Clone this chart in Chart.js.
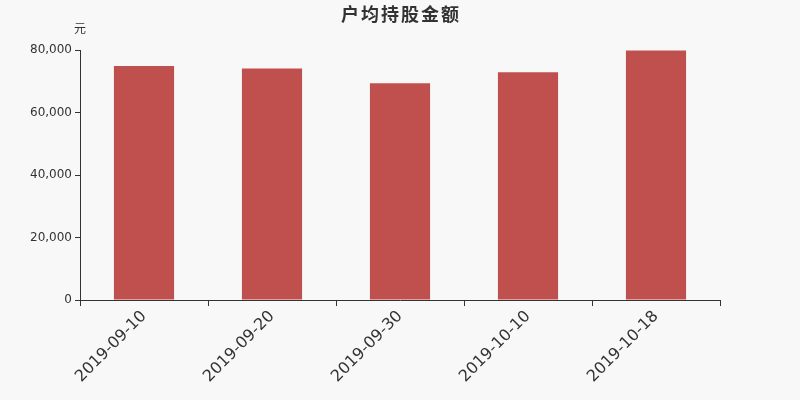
<!DOCTYPE html>
<html>
<head>
<meta charset="utf-8">
<script src="https://cdn.jsdelivr.net/npm/chart.js@4/dist/chart.umd.min.js"></script>
<style>
  html, body { margin: 0; padding: 0; background: #f8f8f8; }
  #wrap { width: 800px; height: 400px; position: relative; }
</style>
</head>
<body>
<div id="wrap"><canvas id="c"></canvas></div>
<script>
"use strict";
const categories = ["2019-09-10", "2019-09-20", "2019-09-30", "2019-10-10", "2019-10-18"];
const avgHolding = [74900, 74100, 69400, 72850, 79850];
const yTicks = [0, 20000, 40000, 60000, 80000];
const chartTitle = "户均持股金额";
const unitLabel = "元";

const fontFamily = "'DejaVu Sans', 'Noto Sans CJK SC', sans-serif";

// title and unit drawn on top of the canvas
const textPlugin = {
	id: "textPlugin",
	afterDraw: function (chart) {
		const ctx = chart.ctx;
		ctx.save();
		ctx.fillStyle = "#333";
		ctx.textAlign = "center";
		ctx.textBaseline = "middle";
		ctx.font = "bold 18px 'Noto Sans CJK SC', sans-serif";
		if ("letterSpacing" in ctx) ctx.letterSpacing = "2px";
		ctx.fillText(chartTitle, 401, 14);
		if ("letterSpacing" in ctx) ctx.letterSpacing = "0px";
		ctx.font = "12px 'Noto Sans CJK SC', sans-serif";
		ctx.fillText(unitLabel, 80, 28);
		ctx.restore();
	}
};

new Chart(document.getElementById("c"), {
	type: "bar",
	data: {
		labels: categories,
		datasets: [{
			data: avgHolding,
			backgroundColor: "#c0504d",
			barPercentage: 0.94,
			categoryPercentage: 0.5
		}]
	},
	options: {
		responsive: true,
		maintainAspectRatio: false,
		animation: false,
		layout: { padding: { top: 50, right: 80, left: 0, bottom: 0 } },
		plugins: {
			legend: { display: false },
			tooltip: { enabled: false }
		},
		scales: {
			x: {
				grid: { drawOnChartArea: false, drawTicks: true, tickLength: 6, color: "#333", offset: true },
				border: { color: "#333" },
				ticks: {
					color: "#333",
					font: { family: fontFamily, size: 16 },
					minRotation: 45,
					maxRotation: 45,
					padding: 1
				},
				afterFit: function (scale) { scale.height = 100; }
			},
			y: {
				min: 0,
				max: 80000,
				afterBuildTicks: function (scale) {
					scale.ticks = yTicks.map(function (v) { return { value: v }; });
				},
				grid: { drawOnChartArea: false, drawTicks: true, tickLength: 5, color: "#333" },
				border: { color: "#333" },
				ticks: {
					color: "#333",
					font: { family: fontFamily, size: 12 },
					padding: 3,
					callback: function (v) { return v.toLocaleString("en-US"); }
				},
				afterFit: function (scale) { scale.width = 80; }
			}
		}
	},
	plugins: [textPlugin]
});
</script>
</body>
</html>
